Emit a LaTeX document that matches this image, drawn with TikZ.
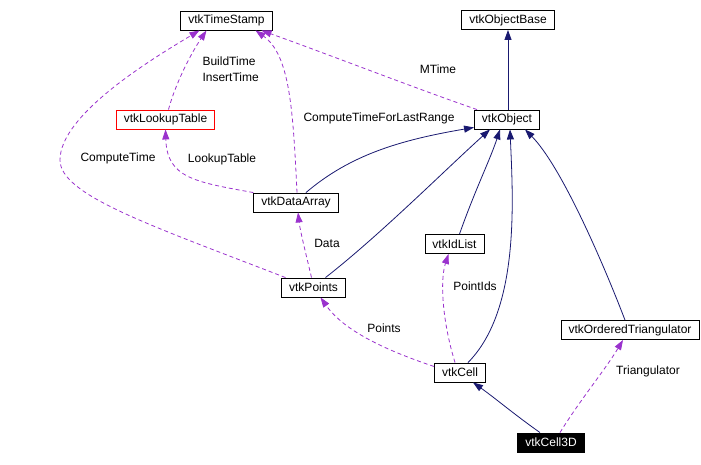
\documentclass[tikz,border=0pt]{standalone}
\usepackage{fontspec}
\setmainfont{Liberation Sans}
\usetikzlibrary{arrows.meta}
\definecolor{edgeblue}{HTML}{191970}
\definecolor{edgepurple}{HTML}{9A32CD}
\begin{document}
\begin{tikzpicture}[x=1pt, y=-1pt, >={Triangle[length=10pt,width=7pt]},
		every node/.style={font=\fontsize{12}{16}\selectfont},
		cls/.style={draw, line width=0.9pt, inner xsep=7.5pt, inner ysep=0pt, minimum height=19pt},
		inherit/.style={->, draw=edgeblue, line width=0.8pt},
		uses/.style={->, draw=edgepurple, line width=0.8pt, dash pattern=on 4pt off 3pt}]
	\useasboundingbox (0,0) rectangle (701,464);
	\node[cls] (ts) at (226.5,20.5) {vtkTimeStamp};
	\node[cls] (ob) at (508,20) {vtkObjectBase};
	\node[cls, draw=red] (lut) at (165.5,119.5) {vtkLookupTable};
	\node[cls] (obj) at (507,119.5) {vtkObject};
	\node[cls] (da) at (296,202.5) {vtkDataArray};
	\node[cls] (idl) at (454.5,244) {vtkIdList};
	\node[cls] (pts) at (313.5,287.5) {vtkPoints};
	\node[cls] (ot) at (630,330) {vtkOrderedTriangulator};
	\node[cls] (cell) at (460,372.5) {vtkCell};
	\node[cls, fill=black, text=white] (c3d) at (551,442.5) {vtkCell3D};

	% inheritance
	\draw[inherit] ([xshift=1pt]obj.north) -- (ob.south);
	\draw[inherit] ([xshift=10pt]da.north) .. controls (350,155) and (400,140) .. ([yshift=2pt]obj.south west);
	\draw[inherit] ([xshift=12pt]pts.north) .. controls (380,235) and (445,170) .. ([xshift=-17pt]obj.south);
	\draw[inherit] ([xshift=5pt]idl.north) .. controls (475,190) and (490,160) .. ([xshift=-7pt]obj.south);
	\draw[inherit] ([xshift=8pt]cell.north) .. controls (520,310) and (513,200) .. ([xshift=3pt]obj.south);
	\draw[inherit] ([xshift=-5pt]ot.north) .. controls (600,255) and (560,165) .. ([xshift=18pt]obj.south);
	\draw[inherit] ([xshift=-11pt]c3d.north) .. controls (515,415) and (495,398) .. ([xshift=13pt]cell.south);

	% usage
	\draw[uses] ([xshift=3pt]obj.north west) .. controls (420,90) and (330,55) .. ([xshift=35pt]ts.south);
	\draw[uses] ([xshift=3pt]lut.north) .. controls (175,85) and (190,55) .. ([xshift=-20pt]ts.south);
	\draw[uses] ([xshift=1pt]da.north) .. controls (293,110) and (290,55) .. ([xshift=29pt]ts.south);
	\draw[uses] ([xshift=-28pt]pts.north) .. controls (150,225) and (60,195) .. (60,160)
		.. controls (60,115) and (150,60) .. ([xshift=-27pt]ts.south);
	\draw[uses] (da.north west) .. controls (195,182) and (167,178) .. (lut.south);
	\draw[uses] ([xshift=-2pt]pts.north) .. controls (305,250) and (300,230) .. ([xshift=2pt]da.south);
	\draw[uses] ([xshift=-5pt]cell.north) .. controls (442,320) and (440,280) .. ([xshift=-6pt]idl.south);
	\draw[uses] ([yshift=6pt]cell.west) .. controls (370,345) and (340,325) .. ([xshift=7pt]pts.south);
	\draw[uses] ([xshift=9pt]c3d.north) .. controls (580,400) and (605,370) .. ([xshift=-7pt]ot.south);

	% labels
	\node[anchor=west, align=left] (lbuild) at (199,69) {BuildTime\\InsertTime};
	\node (lmtime) at (438,69) {MTime};
	\node (lrange) at (379,118) {ComputeTimeForLastRange};
	\node (lctime) at (118,158) {ComputeTime};
	\node (llut) at (222,159) {LookupTable};
	\node (ldata) at (327,243) {Data};
	\node (lpids) at (475,286) {PointIds};
	\node (lpts) at (384,328) {Points};
	\node (ltri) at (648,371) {Triangulator};
\end{tikzpicture}
\end{document}
